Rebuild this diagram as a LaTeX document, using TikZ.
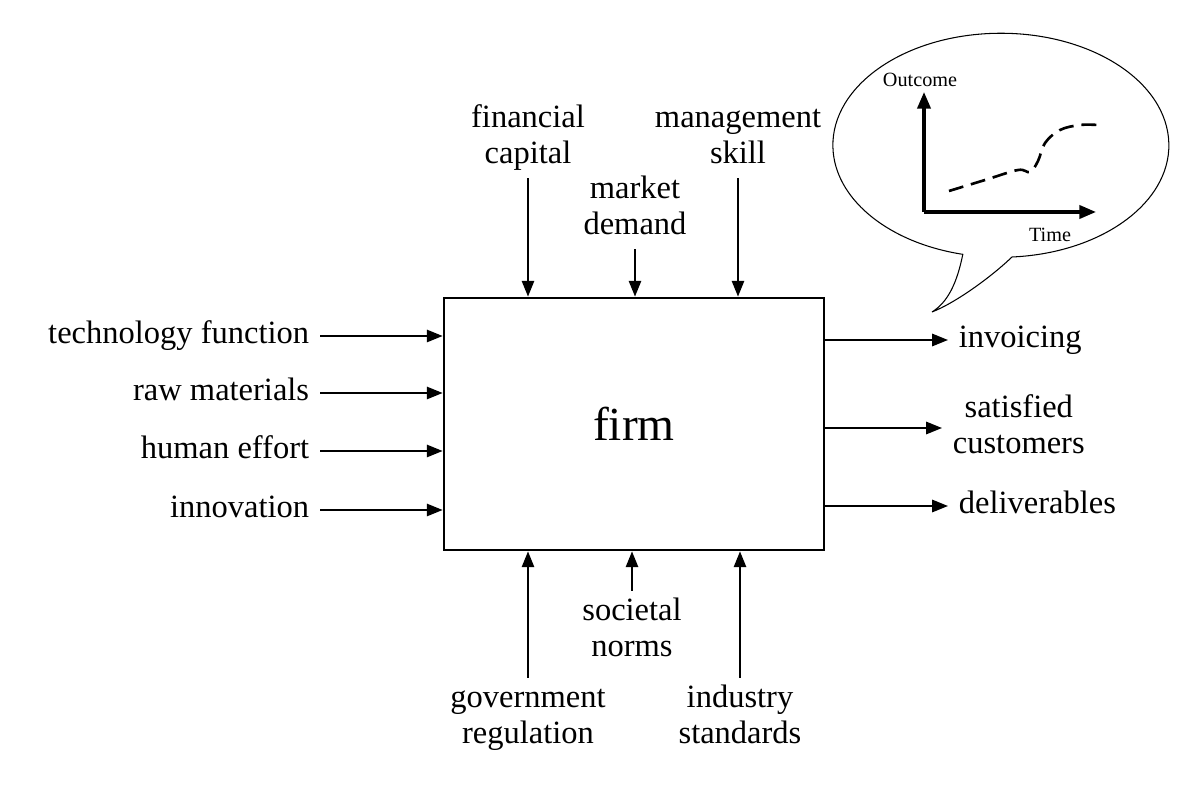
\documentclass[tikz,border=0pt]{standalone}
\usepackage{fontspec}
\setmainfont{Liberation Serif}
\usetikzlibrary{arrows.meta,positioning,shapes}

\begin{document}
\begin{tikzpicture}[x=0.02cm,y=0.02cm,
        lbl/.style={inner xsep=6pt,inner ysep=2pt,align=center,font=\fontsize{18.5}{20.7}\selectfont},
        flow/.style={-{Triangle[length=9pt,width=7pt]},line width=1.1pt},
        axis/.style={-{Triangle[length=9.5pt,width=7.5pt]},line width=1.9pt}]
        \useasboundingbox (0,0) rectangle (1200,798);

        %nodes
        \node[draw,line width=1.6pt,minimum width=7.6cm,minimum height=5.04cm,
              font=\fontsize{27}{32}\selectfont] (firm) at (634,374) {firm};

        \node[lbl] (fin) at (528,660) {financial\strut\\capital\strut};
        \node[lbl] (mkt) at (635,589) {market\strut\\demand\strut};
        \node[lbl] (mgmt) at (738,660) {management\strut\\skill\strut};

        \node[lbl,anchor=east] (tech) at (320,462) {technology function\strut};
        \node[lbl,anchor=east] (raw) at (320,405) {raw materials\strut};
        \node[lbl,anchor=east] (hum) at (320,347) {human effort\strut};
        \node[lbl,anchor=east] (inno) at (320,288) {innovation\strut};

        \node[lbl,anchor=west] (inv) at (948,458) {invoicing\strut};
        \node[lbl,anchor=west] (sat) at (942,370) {satisfied\strut\\customers\strut};
        \node[lbl,anchor=west] (del) at (948,292) {deliverables\strut};

        \node[lbl] (gov) at (528,80) {government\strut\\regulation\strut};
        \node[lbl] (soc) at (632,167) {societal\strut\\norms\strut};
        \node[lbl] (ind) at (740,80) {industry\strut\\standards\strut};

        %inputs and outputs
        \foreach \n in {fin,mkt,mgmt}
            \draw[flow] (\n) -- (\n |- firm.north);
        \foreach \n in {tech,raw,hum,inno}
            \draw[flow] (\n) -- (\n -| firm.west);
        \foreach \n in {inv,sat,del}
            \draw[flow] (firm.east |- \n) -- (\n);
        \foreach \n in {gov,soc,ind}
            \draw[flow] (\n) -- (\n |- firm.south);

        %speech bubble
        \draw[line width=0.6pt] (1012,541) arc[start angle=273.8,end angle=616.9,x radius=168,y radius=112]
            .. controls (957,515) and (948,496) .. (932,486)
            .. controls (955,495) and (990,520) .. (1012,541);
        \coordinate (o) at (924,586);
        \coordinate (ytop) at (924,706);
        \coordinate (xend) at (1096,586);
        \draw[axis] (o) -- (ytop);
        \draw[axis] (o) -- (xend);
        \node[font=\fontsize{11.5}{13}\selectfont,inner sep=1pt] (outc) at (920,718) {Outcome};
        \node[font=\fontsize{11.5}{13}\selectfont,inner sep=1pt] (time) at (1050,563) {Time};
        \draw[line width=1.5pt,dash pattern=on 8.5pt off 4.5pt] plot[smooth,tension=0.6] coordinates
            {(949,607) (985,618) (1018,628) (1030,626) (1038,637) (1045,655) (1060,668) (1080,673) (1098,673)};
\end{tikzpicture}
\end{document}
